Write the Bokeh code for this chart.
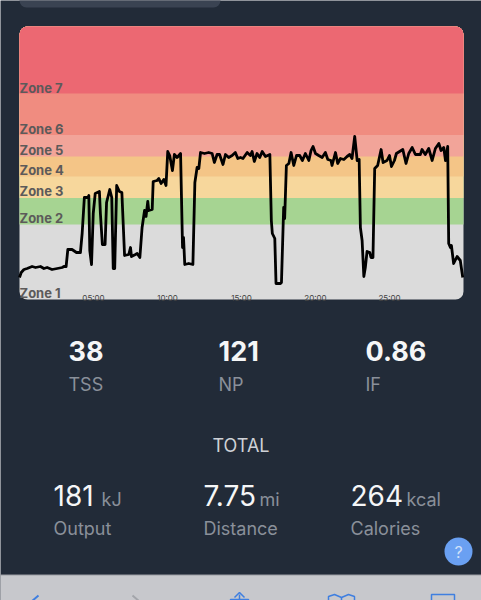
from bokeh.plotting import figure
from bokeh.embed import file_html
from bokeh.resources import INLINE
from bokeh.models import Range1d, LinearAxis, FixedTicker
from bokeh.core.properties import value

# ---------- data ----------
times = [0,7,18,31,51,65,85,99,112,132,153,173,180,189,196,213,231,247,254,263,277,281,285,292,299,307,324,328,336,347,353,366,374,380,386,394,405,415,426,443,450,454,470,477,488,497,507,513,520,524,538,542,558,565,574,585,594,601,609,620,628,639,653,661,665,670,686,703,711,720,727,734,750,767,781,790,801,811,825,835,848,862,875,885,896,906,923,936,943,952,963,974,984,997,1015,1021,1025,1035,1040,1058,1062,1071,1075,1082,1092,1101,1112,1123,1136,1147,1159,1173,1182,1190,1200,1213,1227,1240,1250,1263,1267,1281,1290,1301,1315,1328,1339,1348,1359,1369,1377,1382,1389,1396,1402,1409,1420,1425,1433,1440,1452,1466,1474,1490,1500,1508,1520,1528,1541,1554,1567,1578,1592,1605,1625,1632,1645,1659,1673,1686,1700,1709,1720,1727,1736,1740,1747,1751,1760,1774,1787,1797]
watts = [22,27,30,31,33,32,33,31,32,30,31,32,33,33,50,50,47,47,66,102,102,104,49,35,86,106,108,86,55,55,97,110,102,31,31,114,108,107,44,45,52,43,45,46,42,72,89,83,98,89,90,118,119,121,116,120,114,148,144,129,145,142,146,52,62,35,36,35,117,132,131,147,146,147,146,137,145,145,135,145,142,144,147,141,142,141,147,144,148,138,146,142,148,143,145,79,66,61,16,16,17,92,81,134,136,147,134,144,144,139,146,139,149,153,146,144,142,147,140,139,134,147,136,141,140,143,145,141,163,139,140,72,59,23,32,48,47,42,42,131,134,150,137,139,144,133,139,146,148,150,136,146,152,145,145,150,145,151,139,151,156,149,152,139,153,56,52,54,36,43,39,22]

zone_names = ["Zone 1","Zone 2","Zone 3","Zone 4","Zone 5","Zone 6","Zone 7"]
zone_low = [0,75,101.5,123,143,164.5,206]
zone_ceiling = 273
zone_colors = ["#dbdbdb","#a6d492","#f7d79c","#f4c587","#f2a499","#f08c80","#ec6872"]

tick_seconds = [300,600,900,1200,1500]
tick_labels = ["05:00","10:00","15:00","20:00","25:00"]

metric_values = ["38","121","0.86"]
metric_names = ["TSS","NP","IF"]
total_values = ["181","7.75","264"]
total_units = ["kJ","mi","kcal"]
total_names = ["Output","Distance","Calories"]

# ---------- figure ----------
BG = "#222b38"
FONT = "Inter"
p = figure(width=481, height=600, output_backend="svg", toolbar_location=None,
           x_range=Range1d(-77, 1873), y_range=Range1d(-301, 299),
           x_axis_location=None, y_axis_location=None, min_border=0,
           background_fill_color=BG, border_fill_color=BG, outline_line_color=None)
p.grid.visible = False
p.extra_x_ranges["px"] = Range1d(0, 481)
p.extra_y_ranges["py"] = Range1d(600, 0)
PX = dict(x_range_name="px", y_range_name="py")

# top card fragment
p.quad(left=[19], right=[220], top=[-8], bottom=[7], fill_color="#3a4352", line_color=None,
       border_radius=7, **PX)

# zone bands: painted bottom-up, each reaching the ceiling, so no seams show
for i, (lo, col) in enumerate(zip(zone_low, zone_colors)):
    r = 8 if i == 0 else (8, 8, 0, 0)
    p.quad(left=[0], right=[1800], bottom=[lo], top=[zone_ceiling], fill_color=col, line_color=None, border_radius=r)

# power line
p.line(times, watts, line_color="black", line_width=2.8, line_join="round")

# axis inside the panel
ax = LinearAxis(fixed_location=14, ticker=FixedTicker(ticks=tick_seconds),
                major_label_overrides=dict(zip(tick_seconds, tick_labels)))
ax.axis_line_color = None
ax.major_tick_line_color = None
ax.minor_tick_line_color = None
ax.major_label_standoff = 1
ax.major_label_text_font = FONT
ax.major_label_text_font_size = "8px"
ax.major_label_text_color = "#444444"
p.add_layout(ax, "below")

def txt(x, y, s, size, color, style="normal", align="left"):
    p.text(x=[x], y=[y], text=[s], text_font=value(FONT), text_font_size=f"{size}px",
           text_color=color, text_font_style=style, text_align=align, text_baseline="middle", **PX)

# zone labels
zone_label_y = [292, 217, 190, 169, 149, 128, 87]
for name, y in zip(zone_names, zone_label_y):
    txt(19, y, name, 13, "#5c5a5a", "bold")

# metrics
for x, v, n in zip([68, 218, 365], metric_values, metric_names):
    txt(x, 350, v, 27, "#f5f6f7", "bold")
    txt(x, 384, n, 18, "#8a909a")

txt(240.5, 445, "TOTAL", 18, "#ced1d6", align="center")

for x, ux, v, u, n in zip([53, 203, 350], [101, 259, 406], total_values, total_units, total_names):
    txt(x, 495, v, 28, "#f5f6f7")
    txt(ux, 499, u, 18, "#8a909a")
    txt(x, 528, n, 18, "#8a909a")

# help button
p.scatter(x=[458], y=[551], size=28, marker="circle", fill_color="#6aa0f2", line_color=None, **PX)
txt(458, 551, "?", 16, "#cfe0fa", align="center")

# bottom browser bar
p.quad(left=[0], right=[481], top=[574.5], bottom=[600], fill_color="#c7c8cc", line_color=None, **PX)
p.segment(x0=[0], x1=[481], y0=[574.5], y1=[574.5], line_color="#9b9da2", line_width=1, **PX)

p.line([38, 31, 38], [595, 601, 607], line_color="#3f7fe0", line_width=2, **PX)
p.line([132, 139, 132], [595, 601, 607], line_color="#a3a5aa", line_width=2, **PX)
p.line([239, 239], [594, 603], line_color="#3f7fe0", line_width=1.5, **PX)
p.line([234, 239, 244], [597, 592, 597], line_color="#3f7fe0", line_width=1.5, **PX)
p.line([230, 230, 248, 248], [603, 599, 599, 603], line_color="#3f7fe0", line_width=1.5, **PX)
p.line([328, 328, 334, 341, 348, 354, 354], [603, 596, 594, 597, 594, 596, 603], line_color="#3f7fe0", line_width=1.5, **PX)
p.line([341, 341], [597, 603], line_color="#3f7fe0", line_width=1.5, **PX)
p.line([431, 431, 454, 454], [603, 594, 594, 603], line_color="#3f7fe0", line_width=1.5, **PX)

open("out.html", "w").write(file_html(p, INLINE))
